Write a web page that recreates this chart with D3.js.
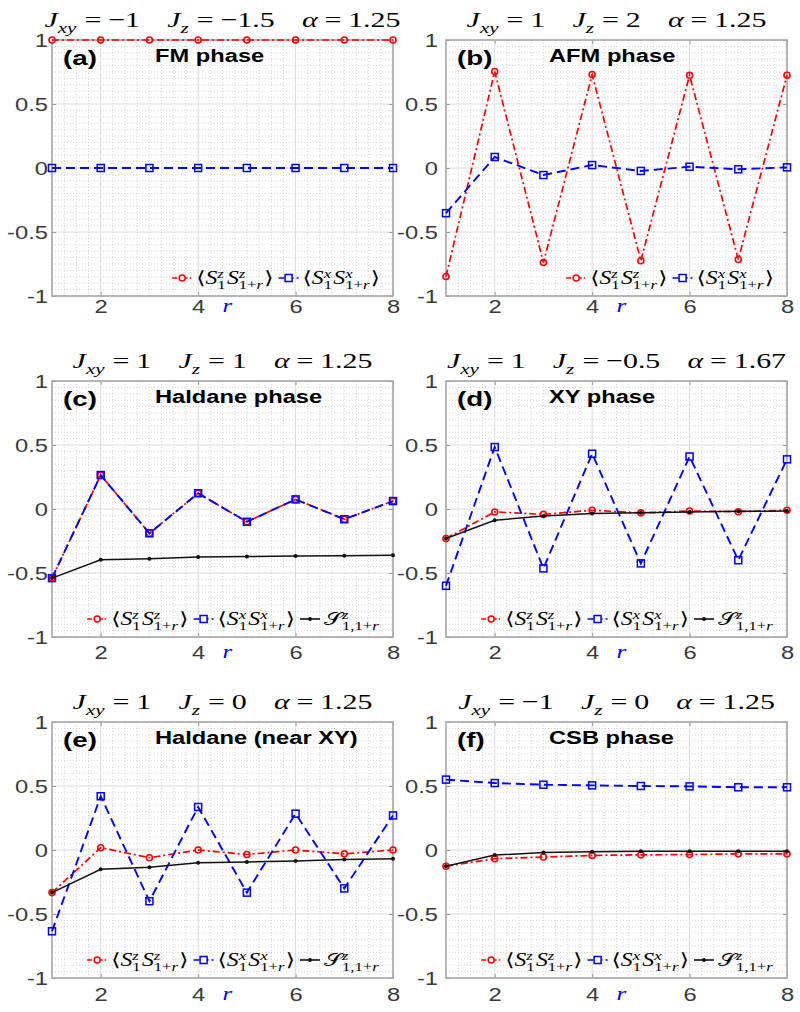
<!DOCTYPE html>
<html><head><meta charset="utf-8">
<script src="https://cdn.jsdelivr.net/npm/d3@7"></script>
<style>body{margin:0;background:#fff} svg{display:block}</style>
</head><body>
<script>
// ---------- data ----------
const rValues=[1,2,3,4,5,6,7,8];
const panelLetters=["(a)","(b)","(c)","(d)","(e)","(f)"];
const phaseNames=["FM phase","AFM phase","Haldane phase","XY phase","Haldane (near XY)","CSB phase"];
const jxyValues=["\u22121","1","1","1","1","\u22121"];
const jzValues=["\u22121.5","2","1","\u22120.5","0","0"];
const alphaValues=["1.25","1.25","1.25","1.67","1.25","1.25"];

const szzA=[1,1,1,1,1,1,1,1];
const sxxA=[0,0,0,0,0,0,0,0];
const szzB=[-0.848,0.754,-0.738,0.73,-0.725,0.725,-0.715,0.725];
const sxxB=[-0.353,0.086,-0.055,0.023,-0.023,0.01,-0.01,0.005];
const szzC=[-0.54,0.265,-0.19,0.123,-0.10,0.075,-0.08,0.062];
const sxxC=[-0.54,0.265,-0.19,0.123,-0.10,0.075,-0.08,0.062];
const corrC=[-0.54,-0.396,-0.388,-0.375,-0.372,-0.367,-0.365,-0.362];
const szzD=[-0.23,-0.023,-0.042,-0.01,-0.03,-0.016,-0.021,-0.01];
const sxxD=[-0.60,0.484,-0.464,0.432,-0.425,0.41,-0.40,0.388];
const corrD=[-0.23,-0.088,-0.055,-0.036,-0.03,-0.023,-0.018,-0.016];
const szzE=[-0.333,0.018,-0.06,0.0,-0.035,0.0,-0.03,0.0];
const sxxE=[-0.635,0.42,-0.40,0.336,-0.333,0.284,-0.30,0.27];
const corrE=[-0.333,-0.15,-0.135,-0.10,-0.093,-0.086,-0.075,-0.068];
const szzF=[-0.127,-0.068,-0.055,-0.042,-0.038,-0.036,-0.03,-0.03];
const sxxF=[0.55,0.523,0.51,0.505,0.50,0.497,0.49,0.49];
const corrF=[-0.127,-0.04,-0.02,-0.013,-0.01,-0.01,-0.01,-0.01];

const yTickValues=[-1,-0.5,0,0.5,1];
const yTickLabels=["-1","-0.5","0","0.5","1"];
const xTickValues=[2,4,6,8];
const xTickLabels=["2","4","6","8"];

const panelSeries=[
  {szz:szzA,sxx:sxxA,corr:null},
  {szz:szzB,sxx:sxxB,corr:null},
  {szz:szzC,sxx:sxxC,corr:corrC},
  {szz:szzD,sxx:sxxD,corr:corrD},
  {szz:szzE,sxx:sxxE,corr:corrE},
  {szz:szzF,sxx:sxxF,corr:corrF}
];

// ---------- layout ----------
const W=800,H=1012;
const colLeft=[52,446], plotW=341;
const rowTop=[40,381,722], plotH=256;
const xTickBaseline=[17,22,23];
const yLabelGap=[4,8];
const SX=1.32; // horizontal stretch of text
const TITLE_SX=1.36;
const RED="#ff0000", BLUE="#0000ff", BLACK="#111111";
const SERIF="'Liberation Serif','DejaVu Serif',serif";
const SANS="'Liberation Sans',Arial,sans-serif";

const svg=d3.select("body").append("svg").attr("width",W).attr("height",H);

function addT(parent,segs,size){
  const t=parent.append("text").attr("x",0).attr("y",0).attr("font-size",size).attr("font-family",SERIF);
  segs.forEach(s=>t.append("tspan").text(s[0]).attr("font-style",s[1]?"italic":"normal"));
  return t;
}
function measure(parent,segs,size){
  const t=addT(parent,segs,size);const w=t.node().getComputedTextLength();t.remove();return w;
}
// rich math text as a single <text> element; returns {g,width}
function rich(parent,pieces,size,fill,sx){
  const g=parent.append("g");
  const inner=g.append("g").attr("transform",`scale(${sx},1)`);
  const items=[];let cx=0;
  pieces.forEach(p=>{
    if(p.gap!==undefined){cx+=p.gap;return;}
    if(p.sup!==undefined||p.sub!==undefined){
      let w=0;
      if(p.sup){items.push({segs:p.sup,x:cx,y:-size*0.36,size:size*0.7});w=Math.max(w,measure(inner,p.sup,size*0.7));}
      if(p.sub){items.push({segs:p.sub,x:cx,y:size*0.26,size:size*0.7});w=Math.max(w,measure(inner,p.sub,size*0.7));}
      cx+=w+1;return;
    }
    const segs=[[p.t,p.it?1:0]];
    items.push({segs,x:cx,y:0,size});
    cx+=measure(inner,segs,size);
  });
  const t=inner.append("text").attr("fill",fill).attr("font-family",SERIF);
  items.forEach(it=>{
    it.segs.forEach((s,j)=>{
      const ts=t.append("tspan").text(s[0]).attr("font-style",s[1]?"italic":"normal").attr("font-size",it.size);
      if(j===0) ts.attr("x",it.x).attr("y",it.y);
    });
  });
  return {g,width:cx*sx};
}

const sSz=[{t:"\u27E8"},{t:"S",it:1},{sup:[["z",1]],sub:[["1",0]]},{t:"S",it:1},{sup:[["z",1]],sub:[["1+",0],["r",1]]},{t:"\u27E9"}];
const sSx=[{t:"\u27E8"},{t:"S",it:1},{sup:[["x",1]],sub:[["1",0]]},{t:"S",it:1},{sup:[["x",1]],sub:[["1+",0],["r",1]]},{t:"\u27E9"}];
const sCorr=[{t:"\uD835\uDCAE"},{sup:[["z",1]],sub:[["1,1+",0],["r",1]]}];

panelSeries.forEach((ps,i)=>{
  const col=i%2,row=Math.floor(i/2);
  const left=colLeft[col],top=rowTop[row];
  const x=d3.scaleLinear().domain([1,8]).range([left,left+plotW]);
  const y=d3.scaleLinear().domain([-1,1]).range([top+plotH,top]);
  const g=svg.append("g");

  // minor grid
  const xMinor=d3.range(1,8.001,0.25).filter(v=>!xTickValues.includes(v));
  const yMinor=d3.range(-1,1.0001,0.05).map(v=>+v.toFixed(2)).filter(v=>!yTickValues.includes(v));
  g.selectAll(".mx").data(xMinor).join("line").attr("x1",d=>x(d)).attr("x2",d=>x(d))
    .attr("y1",top).attr("y2",top+plotH).attr("stroke","#cacaca").attr("stroke-width",0.8).attr("stroke-dasharray","1,2");
  g.selectAll(".my").data(yMinor).join("line").attr("y1",d=>y(d)).attr("y2",d=>y(d))
    .attr("x1",left).attr("x2",left+plotW).attr("stroke","#cacaca").attr("stroke-width",0.8).attr("stroke-dasharray","1,2");
  // major grid
  g.selectAll(".gx").data(xTickValues).join("line").attr("x1",d=>x(d)).attr("x2",d=>x(d))
    .attr("y1",top).attr("y2",top+plotH).attr("stroke","#dadada").attr("stroke-width",1);
  g.selectAll(".gy").data(yTickValues).join("line").attr("y1",d=>y(d)).attr("y2",d=>y(d))
    .attr("x1",left).attr("x2",left+plotW).attr("stroke","#dadada").attr("stroke-width",1);

  // axes (inward ticks)
  const ax=g.append("g").attr("transform",`translate(${left},0)`)
    .call(d3.axisLeft(y).tickValues(yTickValues).tickFormat((d,k)=>yTickLabels[k]).tickSize(-4).tickPadding(0));
  ax.select(".domain").remove();
  ax.selectAll("line").attr("stroke","#999");
  ax.selectAll("text").attr("font-family",SANS).attr("font-size",18).attr("fill","#3a3a3a")
    .attr("x",-yLabelGap[col]/SX).attr("dy","0.36em").attr("transform",`scale(${SX},1)`);
  const axR=g.append("g").attr("transform",`translate(${left+plotW},0)`)
    .call(d3.axisRight(y).tickValues(yTickValues).tickFormat("").tickSize(-4));
  axR.select(".domain").remove(); axR.selectAll("line").attr("stroke","#999");
  const bx=g.append("g").attr("transform",`translate(0,${top+plotH})`)
    .call(d3.axisBottom(x).tickValues(xTickValues).tickFormat((d,k)=>xTickLabels[k]).tickSize(-4).tickPadding(0));
  bx.select(".domain").remove();
  bx.selectAll("line").attr("stroke","#999");
  bx.selectAll("text").attr("font-family",SANS).attr("font-size",18).attr("fill","#3a3a3a")
    .attr("y",xTickBaseline[row]).attr("dy",0).attr("transform",`scale(${SX},1)`);
  const tx=g.append("g").attr("transform",`translate(0,${top})`)
    .call(d3.axisTop(x).tickValues(xTickValues).tickFormat("").tickSize(-4));
  tx.select(".domain").remove(); tx.selectAll("line").attr("stroke","#999");

  // frame
  g.append("rect").attr("x",left).attr("y",top).attr("width",plotW).attr("height",plotH)
    .attr("fill","none").attr("stroke","#a8a8a8").attr("stroke-width",1.6);

  // x label
  g.append("text").attr("x",0).attr("y",0).attr("transform",`translate(${left+plotW/2+5},${top+plotH+xTickBaseline[row]-1}) scale(${SX},1)`)
    .attr("text-anchor","middle").attr("font-family",SERIF).attr("font-style","italic").attr("font-size",19)
    .attr("fill",BLUE).text("r");

  // series
  const line=d3.line().x((d,k)=>x(rValues[k])).y(d=>y(d));
  function drawSeries(vals,color,dash,width,marker){
    g.append("path").attr("d",line(vals)).attr("fill","none").attr("stroke",color)
      .attr("stroke-width",width).attr("stroke-dasharray",dash);
    if(marker==="o"){
      g.selectAll(null).data(vals).join("circle").attr("cx",(d,k)=>x(rValues[k])).attr("cy",d=>y(d))
        .attr("r",3).attr("fill","none").attr("stroke",color).attr("stroke-width",1.6);
    } else if(marker==="s"){
      g.selectAll(null).data(vals).join("rect").attr("x",(d,k)=>x(rValues[k])-3.5).attr("y",d=>y(d)-3.5)
        .attr("width",7).attr("height",7).attr("fill","none").attr("stroke",color).attr("stroke-width",1.5);
    } else {
      g.selectAll(null).data(vals).join("circle").attr("cx",(d,k)=>x(rValues[k])).attr("cy",d=>y(d))
        .attr("r",2).attr("fill",color);
    }
  }
  drawSeries(ps.szz,RED,"7,3,2,3",1.7,"o");
  drawSeries(ps.sxx,BLUE,"9,5",1.9,"s");
  if(ps.corr) drawSeries(ps.corr,BLACK,null,1.5,".");

  // title
  const tp=[{t:"J",it:1},{sub:[["xy",1]]},{gap:5},{t:"="},{gap:5},{t:jxyValues[i]},{gap:20},
            {t:"J",it:1},{sub:[["z",1]]},{gap:5},{t:"="},{gap:5},{t:jzValues[i]},{gap:20},
            {t:"\u03B1",it:1},{gap:5},{t:"="},{gap:5},{t:alphaValues[i]}];
  const tt=rich(svg,tp,22,"#000",TITLE_SX);
  tt.g.attr("transform",`translate(${left+plotW/2-tt.width/2},${top-13})`);

  // panel letter and phase name
  svg.append("text").attr("transform",`translate(${left+11},${top+25}) scale(${SX},1)`)
    .attr("font-family",SANS).attr("font-weight","bold").attr("font-size",21).text(panelLetters[i]);
  svg.append("text").attr("transform",`translate(${left+103},${top+22}) scale(${SX*0.97},1)`)
    .attr("font-family",SANS).attr("font-weight","bold").attr("font-size",18.5).text(phaseNames[i]);

  // legend
  const lg=svg.append("g");
  const entries=[{p:sSz,c:RED,dash:"5,2,1.5,2",m:"o"},{p:sSx,c:BLUE,dash:"6,3",m:"s"}];
  if(ps.corr) entries.push({p:sCorr,c:BLACK,dash:null,m:"."});
  let cx=0;
  entries.forEach(e=>{
    lg.append("line").attr("x1",cx).attr("x2",cx+20).attr("y1",0).attr("y2",0)
      .attr("stroke",e.c).attr("stroke-width",1.6).attr("stroke-dasharray",e.dash);
    if(e.m==="o") lg.append("circle").attr("cx",cx+10).attr("cy",0).attr("r",3).attr("fill","#fff").attr("stroke",e.c).attr("stroke-width",1.5);
    else if(e.m==="s") lg.append("rect").attr("x",cx+6.5).attr("y",-3.5).attr("width",7).attr("height",7).attr("fill","#fff").attr("stroke",e.c).attr("stroke-width",1.5);
    else lg.append("circle").attr("cx",cx+10).attr("cy",0).attr("r",2).attr("fill",e.c);
    cx+=24;
    const r=rich(lg,e.p,18,"#000",SX);
    r.g.attr("transform",`translate(${cx},6)`);
    cx+=r.width+5;
  });
  lg.attr("transform",`translate(${left+plotW-8-cx},${top+plotH-18})`);
});
</script>
</body></html>
